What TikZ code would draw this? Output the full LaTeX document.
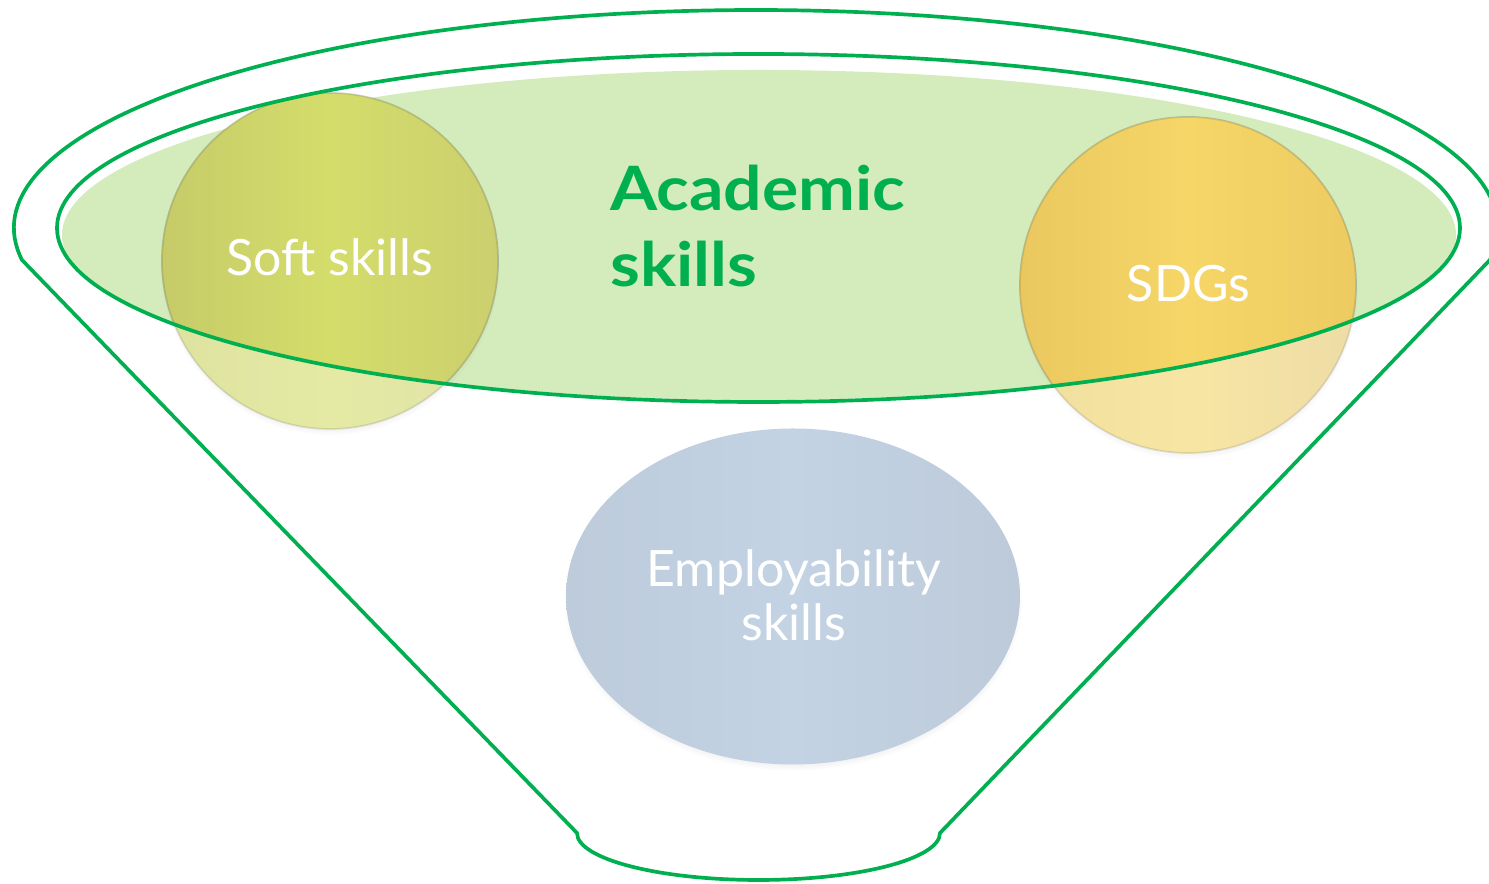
\documentclass[tikz,border=0pt]{standalone}
\usepackage{fontspec}
\setmainfont{Lato}
\newfontfamily\academicfont[FakeStretch=1.11]{Lato}
\usetikzlibrary{positioning, shadows, fadings}

\definecolor{funnelgreen}{HTML}{00B050}
\definecolor{academicbg}{HTML}{D4EBBC}

\begin{document}
\begin{tikzpicture}[x=0.02cm, y=0.02cm,
    funnelline/.style={draw=funnelgreen, line width=2.1pt},
    ballshadow/.style={circular drop shadow={shadow xshift=0pt, shadow yshift=-2.5pt, shadow scale=1.01, opacity=0.35}},
    ballrim/.style={draw=black, draw opacity=0.1, line width=1pt},
    skilltext/.style={text=white, font=\fontsize{28.5}{31.2}\selectfont, align=center, inner sep=0pt}]
  \useasboundingbox (0, 0) rectangle (1489, 884);
  \coordinate (lc) at (22, 624);
  \coordinate (bl) at (577, 51);
  \coordinate (br) at (940, 51);
  \draw[funnelline, line join=round] (lc) arc[start angle=188.44, end angle=-8.44, x radius=742, y radius=218]
    -- (br) arc[start angle=0, end angle=-180, x radius=181.5, y radius=47] -- cycle;
  \fill[academicbg] (759, 649) ellipse [x radius=697, y radius=165];
  \path[ballshadow, ballrim, left color={rgb,255:red,222;green,226;blue,160}, right color={rgb,255:red,224;green,226;blue,168}, middle color={rgb,255:red,228;green,234;blue,163}] (330, 623) circle [radius=168];
  \path[ballshadow, ballrim, left color={rgb,255:red,240;green,222;blue,158}, right color={rgb,255:red,238;green,220;blue,166}, middle color={rgb,255:red,247;green,230;blue,163}] (1188, 599) circle [radius=168];
  \begin{scope}
    \clip (758.5, 656) ellipse [x radius=701.5, y radius=174];
    \shade[ballrim, left color={rgb,255:red,198;green,203;blue,105}, right color={rgb,255:red,204;green,207;blue,110}, middle color={rgb,255:red,212;green,221;blue,106}] (330, 623) circle [radius=168];
    \shade[ballrim, left color={rgb,255:red,234;green,200;blue,96}, right color={rgb,255:red,237;green,203;blue,98}, middle color={rgb,255:red,246;green,214;blue,103}] (1188, 599) circle [radius=168];
  \end{scope}
  \draw[funnelline] (758.5, 656) ellipse [x radius=701.5, y radius=174];
  \path[ballshadow, left color={rgb,255:red,189;green,203;blue,219}, right color={rgb,255:red,189;green,202;blue,218}, middle color={rgb,255:red,195;green,211;blue,227}] (793, 287.5) ellipse [x radius=227, y radius=168];
  \node (soft) [skilltext, anchor=base] at (330, 608) {Soft skills};
  \node (sdgs) [skilltext, anchor=base] at (1188.5, 582) {SDGs};
  \node (employ) [skilltext, anchor=base] at (794, 243) {Employability\\skills};
  \node (academic) [text=funnelgreen, font=\academicfont\bfseries\fontsize{34.8}{43.7}\selectfont, align=left, inner sep=0pt, anchor=base west] at (610, 597) {Academic\\skills};
\end{tikzpicture}
\end{document}
